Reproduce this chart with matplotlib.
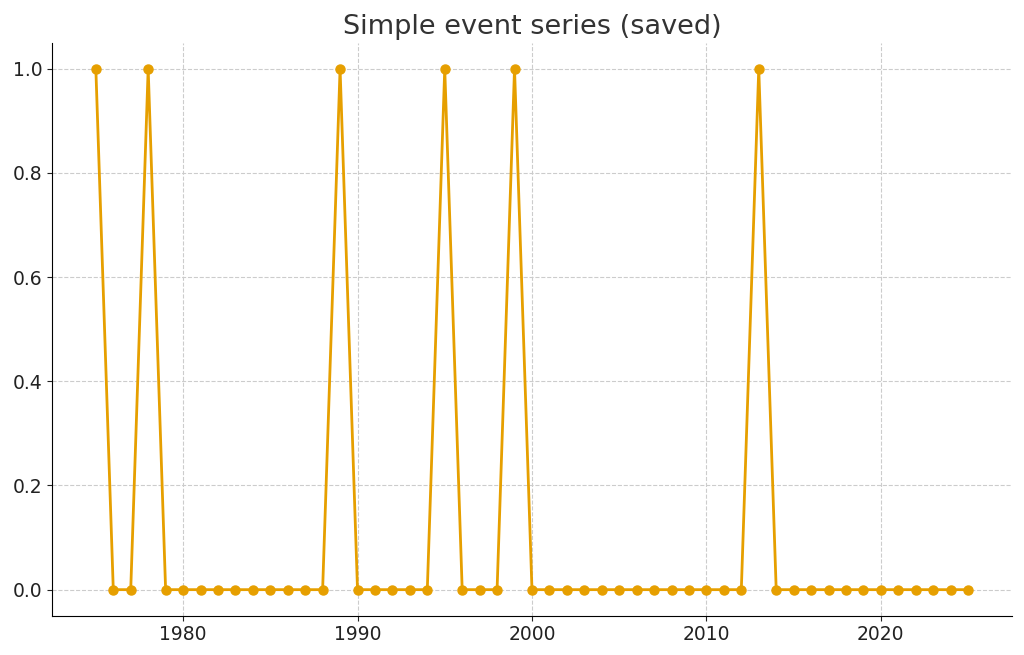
import numpy as np
import matplotlib.pyplot as plt

# Years and event flags (1 = event happened)
years = list(range(1975, 2026))
event_years = [1975, 1978, 1989, 1995, 1999, 2013]
events = [1 if y in event_years else 0 for y in years]

plt.rcParams['font.family'] = ['DejaVu Sans']

fig, ax = plt.subplots(figsize=(10.24, 6.55), dpi=100)

ax.plot(years, events, color='#E69F00', marker='o', linewidth=2, markersize=6.5)

ax.set_title('Simple event series (saved)', fontsize=19.5, color='#333333')
ax.set_xticks([1980, 1990, 2000, 2010, 2020])
ax.set_yticks([0.0, 0.2, 0.4, 0.6, 0.8, 1.0])
ax.tick_params(labelsize=13.5, colors='#222222')
ax.grid(True, linestyle='--', color='#cccccc', linewidth=0.8)
ax.spines['top'].set_visible(False)
ax.spines['right'].set_visible(False)
ax.set_axisbelow(True)

fig.subplots_adjust(left=0.051, right=0.988, top=0.935, bottom=0.06)
fig.savefig('out.png', dpi=100)
